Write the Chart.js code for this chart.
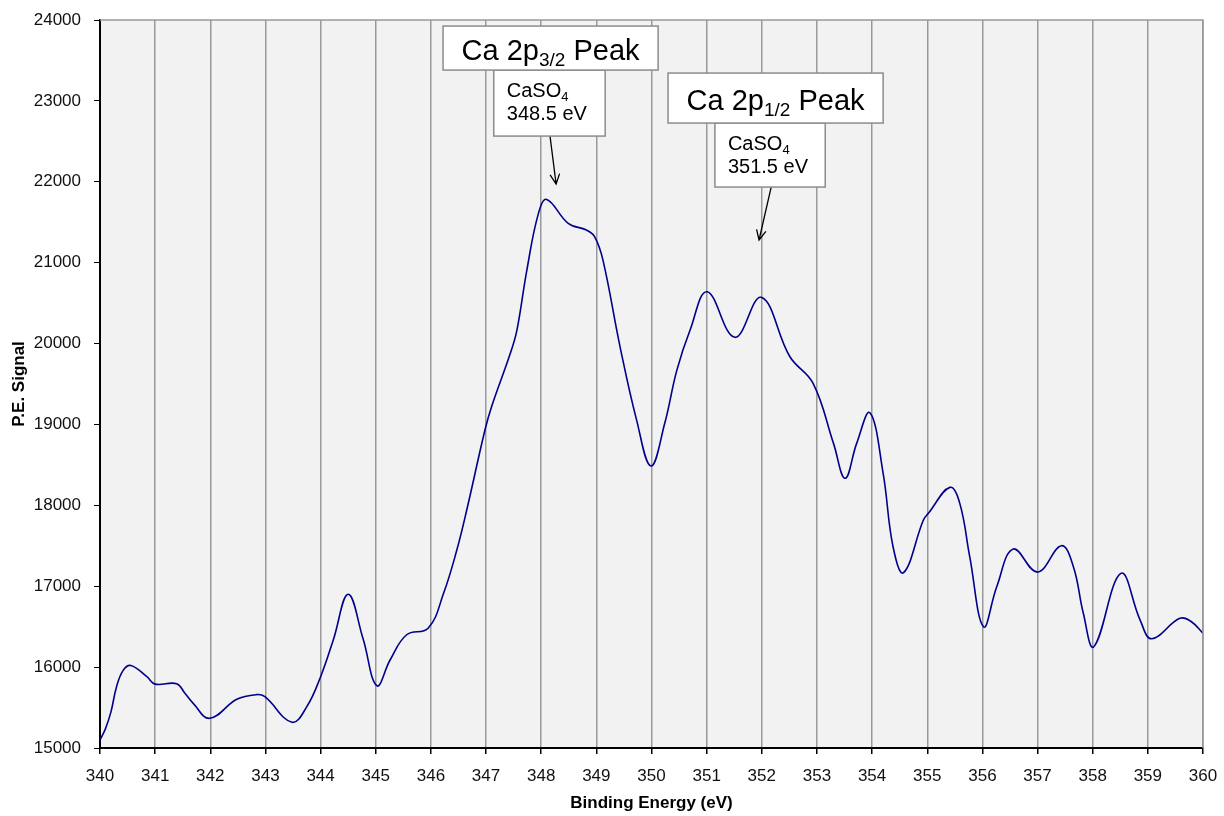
<!DOCTYPE html>
<html>
<head>
<meta charset="utf-8">
<script src="https://cdn.jsdelivr.net/npm/chart.js@4.4.0/dist/chart.umd.min.js"></script>
<style>
  html, body { margin: 0; padding: 0; background: #fff; }
  #wrap { width: 1224px; height: 816px; }
</style>
</head>
<body>
<div id="wrap"><canvas id="xpsChart" width="1224" height="816"></canvas></div>
<script>
// Binding energy (eV) and photoelectron signal
const energy = [
  340.00, 340.10, 340.20, 340.30, 340.42, 340.56, 340.85, 341.00, 341.39, 341.54,
  341.69, 341.99, 342.48, 342.84, 342.99, 343.48, 343.75, 344.00, 344.23, 344.50,
  344.77, 345.02, 345.26, 345.56, 345.95, 346.23, 346.47, 346.65, 346.98, 347.10,
  347.44, 347.56, 347.74, 347.95, 348.10, 348.49, 348.82, 348.97, 349.12, 349.43,
  349.73, 349.99, 350.24, 350.46, 350.70, 351.01, 351.51, 351.99, 352.51, 352.93,
  353.30, 353.51, 353.72, 353.96, 354.20, 354.38, 354.57, 354.93, 355.02, 355.41,
  355.59, 355.77, 356.02, 356.26, 356.56, 357.00, 357.43, 357.65, 357.83, 358.02,
  358.51, 358.86, 359.07, 359.58, 359.79, 360.00
];
const signal = [
  15100, 15240, 15450, 15758, 15960, 16020, 15881, 15790, 15795, 15676,
  15552, 15367, 15602, 15660, 15634, 15318, 15511, 15881, 16335, 16900,
  16350, 15770, 16088, 16400, 16480, 16912, 17447, 17942, 18931, 19219,
  19879, 20167, 20909, 21609, 21782, 21486, 21403, 21320, 21032, 19960,
  19054, 18486, 19014, 19672, 20167, 20640, 20077, 20571, 19837, 19508,
  18766, 18334, 18766, 19145, 18396, 17488, 17167, 17818, 17901, 18222,
  18024, 17365, 16499, 16994, 17460, 17175, 17501, 17241, 16665, 16252,
  17159, 16582, 16351, 16603, 16561, 16418
];

// Tick ranges
const xTicks = { min: 340, max: 360, step: 1 };
const yTicks = { min: 15000, max: 24000, step: 1000 };

// Peak callouts (data coordinates)
const callouts = [
  { main: ['Ca 2p', '3/2', ' Peak'], sub: ['CaSO', '4', '348.5 eV'],
    big: [346.22, 350.12, 23925, 23381], small: [347.14, 349.16, 23381, 22565],
    arrow: [348.16, 22565, 348.27, 21972] },
  { main: ['Ca 2p', '1/2', ' Peak'], sub: ['CaSO', '4', '351.5 eV'],
    big: [350.30, 354.20, 23344, 22726], small: [351.15, 353.15, 22726, 21935],
    arrow: [352.17, 21935, 351.95, 21280] }
];

const FONT = '"Liberation Sans", Arial, Helvetica, sans-serif';

// fond gris de la zone de tracé
const plotBg = {
  id: 'plotBg',
  beforeDraw(chart) {
    const { ctx, chartArea: a } = chart;
    ctx.save();
    ctx.fillStyle = '#f2f2f2';
    ctx.fillRect(a.left, a.top, a.right - a.left, a.bottom - a.top);
    ctx.restore();
  },
  afterDatasetsDraw(chart) {
    const { ctx, chartArea: a } = chart;
    ctx.save();
    ctx.strokeStyle = '#999';
    ctx.lineWidth = 1.5;
    ctx.beginPath();
    ctx.moveTo(a.left, a.top);
    ctx.lineTo(a.right, a.top);
    ctx.lineTo(a.right, a.bottom);
    ctx.stroke();
    ctx.restore();
  }
};

const SUB_RATIO = 0.66;

// texte avec indice : [avant, indice, après]
function drawSubText(ctx, parts, x, y, size) {
  ctx.font = size + 'px ' + FONT;
  ctx.fillText(parts[0], x, y);
  let w = ctx.measureText(parts[0]).width;
  ctx.font = Math.round(size * SUB_RATIO) + 'px ' + FONT;
  ctx.fillText(parts[1], x + w, y + size * 0.2);
  w += ctx.measureText(parts[1]).width;
  if (parts[2]) {
    ctx.font = size + 'px ' + FONT;
    ctx.fillText(parts[2], x + w, y);
  }
}

function subTextWidth(ctx, parts, size) {
  ctx.font = size + 'px ' + FONT;
  let w = ctx.measureText(parts[0]).width + ctx.measureText(parts[2] || '').width;
  ctx.font = Math.round(size * SUB_RATIO) + 'px ' + FONT;
  return w + ctx.measureText(parts[1]).width;
}

const peakLabels = {
  id: 'peakLabels',
  afterDraw(chart) {
    const { ctx } = chart;
    const sx = chart.scales.x, sy = chart.scales.y;
    ctx.save();
    ctx.textBaseline = 'alphabetic';
    ctx.fillStyle = '#000';
    callouts.forEach(c => {
      // flèche
      const x1 = sx.getPixelForValue(c.arrow[0]), y1 = sy.getPixelForValue(c.arrow[1]);
      const x2 = sx.getPixelForValue(c.arrow[2]), y2 = sy.getPixelForValue(c.arrow[3]);
      const ang = Math.atan2(y2 - y1, x2 - x1);
      ctx.strokeStyle = '#000';
      ctx.lineWidth = 1.3;
      ctx.beginPath();
      ctx.moveTo(x1, y1);
      ctx.lineTo(x2, y2);
      ctx.moveTo(x2 - 11 * Math.cos(ang - 0.45), y2 - 11 * Math.sin(ang - 0.45));
      ctx.lineTo(x2, y2);
      ctx.lineTo(x2 - 11 * Math.cos(ang + 0.45), y2 - 11 * Math.sin(ang + 0.45));
      ctx.stroke();

      // grande boîte et petite boîte
      const bl = sx.getPixelForValue(c.big[0]), br = sx.getPixelForValue(c.big[1]);
      const bt = sy.getPixelForValue(c.big[2]), bb = sy.getPixelForValue(c.big[3]);
      const sl = sx.getPixelForValue(c.small[0]), sr = sx.getPixelForValue(c.small[1]);
      const st = sy.getPixelForValue(c.small[2]), sb = sy.getPixelForValue(c.small[3]);
      ctx.strokeStyle = '#8c8c8c';
      ctx.lineWidth = 1.5;
      ctx.fillStyle = '#fff';
      ctx.fillRect(sl, st, sr - sl, sb - st);
      ctx.strokeRect(sl, st, sr - sl, sb - st);
      ctx.fillRect(bl, bt, br - bl, bb - bt);
      ctx.strokeRect(bl, bt, br - bl, bb - bt);

      ctx.fillStyle = '#000';
      const tw = subTextWidth(ctx, c.main, 29);
      drawSubText(ctx, c.main, (bl + br) / 2 - tw / 2, (bt + bb) / 2 + 12, 29);

      drawSubText(ctx, [c.sub[0], c.sub[1]], sl + 13, st + 27, 20);
      ctx.font = '20px ' + FONT;
      ctx.fillText(c.sub[2], sl + 13, st + 50);
    });
    ctx.restore();
  }
};

const canvas = document.getElementById('xpsChart');
new Chart(canvas.getContext('2d'), {
  type: 'line',
  data: {
    datasets: [{
      label: 'P.E. Signal',
      data: energy.map((e, i) => ({ x: e, y: signal[i] })),
      borderColor: '#00008b',
      borderWidth: 1.6,
      pointRadius: 0,
      fill: false,
      tension: 0.4
    }]
  },
  options: {
    responsive: false,
    animation: false,
    events: [],
    layout: { padding: { left: 0, top: 20, right: 21, bottom: 0 } },
    plugins: {
      legend: { display: false },
      tooltip: { enabled: false }
    },
    scales: {
      x: {
        type: 'linear',
        min: xTicks.min,
        max: xTicks.max,
        afterFit(scale) {
          scale.height = 68;
          scale.paddingLeft = 0;
          scale.paddingRight = 0;
        },
        ticks: {
          stepSize: xTicks.step,
          color: '#111',
          font: { family: FONT, size: 17 },
          padding: 12,
          maxRotation: 0
        },
        grid: {
          color: '#999',
          lineWidth: 1.5,
          tickColor: '#000',
          tickLength: 6,
          drawTicks: true
        },
        border: { color: '#000', width: 2 },
        title: {
          display: true,
          text: 'Binding Energy (eV)',
          color: '#000',
          font: { family: FONT, size: 17, weight: 'bold' },
          padding: { top: 0, bottom: 2 }
        }
      },
      y: {
        min: yTicks.min,
        max: yTicks.max,
        afterFit(scale) {
          scale.width = 100;
          scale.paddingTop = 0;
          scale.paddingBottom = 0;
        },
        ticks: {
          stepSize: yTicks.step,
          color: '#111',
          font: { family: FONT, size: 17 },
          padding: 13,
          callback: v => String(v)
        },
        grid: {
          drawOnChartArea: false,
          tickColor: '#000',
          tickLength: 6
        },
        border: { color: '#000', width: 2 },
        title: {
          display: true,
          text: 'P.E. Signal',
          color: '#000',
          font: { family: FONT, size: 17, weight: 'bold' },
          padding: { top: 9, bottom: 0 }
        }
      }
    }
  },
  plugins: [plotBg, peakLabels]
});
</script>
</body>
</html>
